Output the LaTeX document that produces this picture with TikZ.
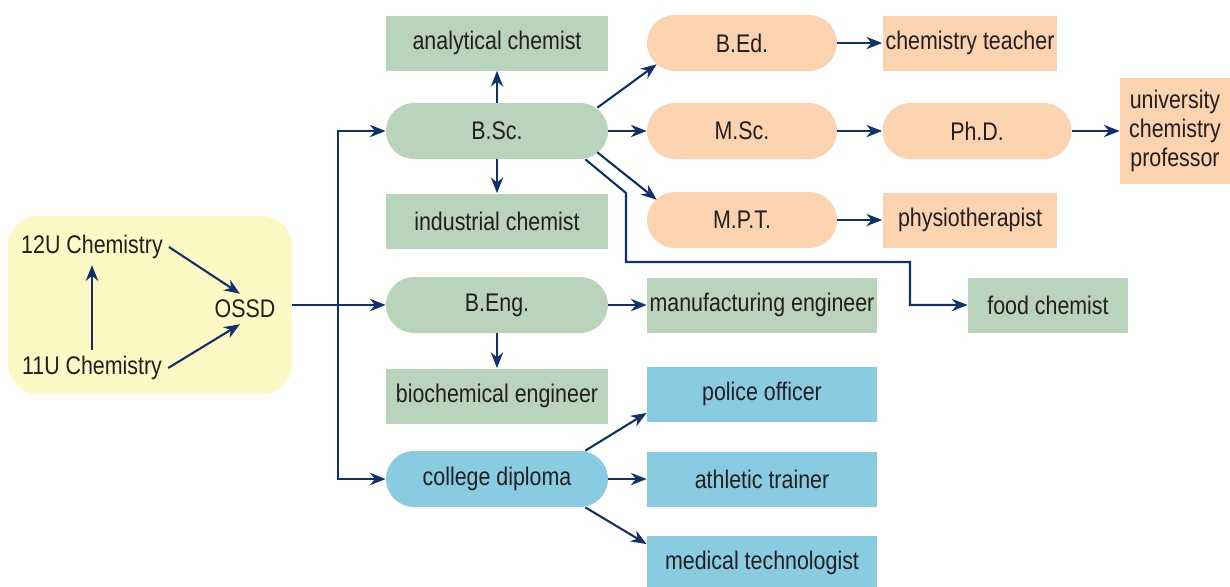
\documentclass[tikz,border=0pt]{standalone}
\usepackage{fontspec}
\setmainfont[FakeStretch=0.84]{Liberation Sans}
\usetikzlibrary{arrows.meta}
\definecolor{navy}{RGB}{16,50,104}
\definecolor{sage}{RGB}{186,211,187}
\definecolor{peach}{RGB}{251,211,176}
\definecolor{sky}{RGB}{137,204,226}
\definecolor{cream}{RGB}{254,248,196}
\definecolor{ink}{RGB}{35,31,32}
\begin{document}
\begin{tikzpicture}[x=0.02cm,y=-0.02cm,>={Stealth[length=9pt,width=7pt]},
          font=\fontsize{14.5}{16.5}\selectfont,text=ink,
          bx/.style={minimum width=4.46cm,minimum height=1.1cm,inner sep=0pt},
          pill/.style={rounded corners=0.56cm,minimum width=4.44cm,minimum height=1.12cm,inner sep=0pt},
          arr/.style={->,navy,line width=1.2pt}]
        \useasboundingbox (0,0) rectangle (1230,586);
        \node[fill=cream,rounded corners=0.6cm,minimum width=5.68cm,minimum height=3.56cm] (school) at (150,305) {};
        \node (u12) at (92,247) {12U Chemistry};
        \node (u11) at (92,368) {11U Chemistry};
        \node (ossd) at (245,309) {OSSD};
        \node[pill,fill=sage] (bsc) at (497,131) {B.Sc.};
        \node[bx,fill=sage] (anal) at (497,43) {analytical chemist};
        \node[bx,fill=sage] (ind) at (497,221) {industrial chemist};
        \node[pill,fill=sage] (beng) at (497,305) {B.Eng.};
        \node[bx,fill=sage] (bioc) at (497,396) {biochemical engineer};
        \node[pill,fill=sky] (dip) at (497,479) {college diploma};
        \node[pill,fill=peach,minimum width=3.8cm] (bed) at (742,43) {B.Ed.};
        \node[pill,fill=peach,minimum width=3.8cm] (msc) at (742,131) {M.Sc.};
        \node[pill,fill=peach,minimum width=3.8cm] (mpt) at (742,220) {M.P.T.};
        \node[bx,fill=peach,minimum width=3.5cm] (teach) at (970,43) {chemistry teacher};
        \node[pill,fill=peach,minimum width=3.78cm] (phd) at (977,131) {Ph.D.};
        \node[bx,fill=peach,minimum width=2.2cm,minimum height=2.12cm,align=center] (prof) at (1175,131) {university\\chemistry\\professor};
        \node[bx,fill=peach,minimum width=3.5cm] (physio) at (970,220) {physiotherapist};
        \node[bx,fill=sage,minimum width=4.6cm] (mfg) at (762,305) {manufacturing engineer};
        \node[bx,fill=sage,minimum width=3.2cm] (food) at (1048,305) {food chemist};
        \node[bx,fill=sky,minimum width=4.6cm] (police) at (762,394) {police officer};
        \node[bx,fill=sky,minimum width=4.6cm] (ath) at (762,479) {athletic trainer};
        \node[bx,fill=sky,minimum width=4.6cm] (med) at (762,563) {medical technologist};
        \coordinate (split) at (338,305);
        \draw[arr] (u11) -- (u12);
        \draw[arr] (u12.east) -- ([xshift=-0.1cm]ossd.north);
        \draw[arr] (u11.east) -- ([xshift=-0.1cm]ossd.south);
        \draw[arr] (school.east) -- (beng);
        \draw[arr] (split) |- (bsc);
        \draw[arr] (split) |- (dip);
        \draw[arr] (bsc) -- (anal);
        \draw[arr] (bsc) -- (ind);
        \draw[arr] (bsc) -- (msc);
        \draw[arr] ([xshift=-0.22cm,yshift=-0.1cm]bsc.north east) -- ([xshift=0.2cm,yshift=0.14cm]bed.south west);
        \draw[arr] ([xshift=-0.22cm,yshift=0.14cm]bsc.south east) -- ([xshift=0.2cm,yshift=-0.16cm]mpt.north west);
        \draw[arr] ([xshift=-0.46cm]bsc.south east) -- (626,193) -- (626,262) -- (910,262) |- (food);
        \draw[arr] (bed) -- (teach);
        \draw[arr] (msc) -- (phd);
        \draw[arr] (phd) -- (prof);
        \draw[arr] (mpt) -- (physio);
        \draw[arr] (beng) -- (mfg);
        \draw[arr] (beng) -- (bioc);
        \draw[arr] ([xshift=-0.46cm]dip.north east) -- ([yshift=0.18cm]police.south west);
        \draw[arr] (dip) -- (ath);
        \draw[arr] ([xshift=-0.46cm]dip.south east) -- ([yshift=-0.18cm]med.north west);
      \end{tikzpicture}
\end{document}
